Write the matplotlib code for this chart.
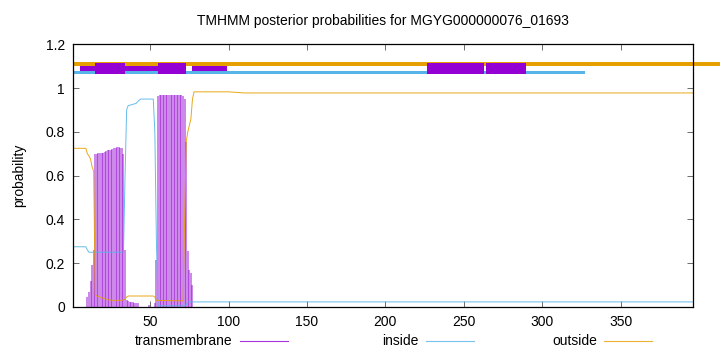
import matplotlib
matplotlib.use("Agg")
import matplotlib.pyplot as plt
from matplotlib.lines import Line2D

plt.rcParams['font.family'] = ['Liberation Sans', 'DejaVu Sans']

title = "TMHMM posterior probabilities for MGYG000000076_01693"
seq_len = 396

# transmembrane posterior, drawn as impulses (residue, probability)
tm_pos = [10, 11, 12, 13, 14,
          15, 16, 17, 18, 19, 20, 21, 22, 23, 24, 25, 26, 27, 28, 29, 30, 31, 32, 33,
          34, 35, 36, 37, 38, 39, 40, 41, 42, 49,
          53, 54,
          55, 56, 57, 58, 59, 60, 61, 62, 63, 64, 65, 66, 67, 68, 69, 70, 71,
          72, 73, 74, 75, 76, 77]
tm_prob = [0.047, 0.07, 0.12, 0.19, 0.26,
           0.70, 0.70, 0.702, 0.703, 0.705, 0.705, 0.706, 0.712, 0.715, 0.716, 0.718, 0.72,
           0.726, 0.728, 0.729, 0.729, 0.728, 0.726, 0.70,
           0.26, 0.03, 0.025, 0.024, 0.022, 0.021, 0.02, 0.02, 0.018, 0.008,
           0.02, 0.215,
           0.966, 0.967, 0.968, 0.968, 0.968, 0.968, 0.968, 0.968, 0.968, 0.968, 0.968,
           0.968, 0.968, 0.968, 0.968, 0.967, 0.966,
           0.95, 0.755, 0.257, 0.17, 0.155, 0.10]

# inside posterior
ins_x = [1, 9, 10, 11, 32, 33, 34, 35, 36, 41, 43, 44, 52, 53, 54, 55, 72, 73, 74, 396]
ins_y = [0.275, 0.275, 0.26, 0.25, 0.25, 0.25, 0.6, 0.90, 0.92, 0.93, 0.945, 0.95,
         0.95, 0.80, 0.30, 0.005, 0.005, 0.01, 0.023, 0.023]

# outside posterior
out_x = [1, 9, 10, 11, 12, 13, 14, 15, 16, 18, 20, 23, 26, 32, 34, 35, 36, 52, 53,
         54, 71, 72, 73, 74, 75, 76, 77, 78, 100, 110, 396]
out_y = [0.725, 0.725, 0.70, 0.69, 0.675, 0.64, 0.62, 0.055, 0.05, 0.045, 0.04, 0.033,
         0.03, 0.03, 0.035, 0.045, 0.05, 0.05, 0.045, 0.03, 0.028, 0.40, 0.755, 0.80,
         0.83, 0.86, 0.95, 0.983, 0.983, 0.978, 0.978]

# predicted topology strip above the curves
outside_seg = [(1, 430)]
inside_seg = [(1, 327.6)]
tm_thin_seg = [(5.3, 72.9), (76.8, 99.1)]
tm_box_seg = [(14.9, 34.0), (54.9, 72.9), (226.7, 263.1), (264.3, 289.9)]

c_tm = '#9400d3'
c_in = '#56b4e9'
c_out = '#e69f00'

fig = plt.figure(figsize=(7.2, 3.52), dpi=100)
ax = fig.add_axes([0.1018, 0.128, 0.8603, 0.746])

ax.vlines(tm_pos, 0, tm_prob, color=c_tm, linewidth=1.1, alpha=0.6)
ax.plot(ins_x, ins_y, color=c_in, linewidth=0.7, alpha=0.9)
ax.plot(out_x, out_y, color=c_out, linewidth=0.7, alpha=0.9)

for a, b in outside_seg:
    ax.fill_between([a, b], 1.100, 1.119, color=c_out, linewidth=0, clip_on=False)
for a, b in inside_seg:
    ax.fill_between([a, b], 1.064, 1.078, color=c_in, linewidth=0)
for a, b in tm_thin_seg:
    ax.fill_between([a, b], 1.079, 1.101, color=c_tm, linewidth=0)
for a, b in tm_box_seg:
    ax.fill_between([a, b], 1.066, 1.115, color=c_tm, linewidth=0)

ax.set_xlim(1, seq_len)
ax.set_ylim(0, 1.2)
ax.set_xticks([50, 100, 150, 200, 250, 300, 350])
ax.set_yticks([0, 0.2, 0.4, 0.6, 0.8, 1.0, 1.2])
ax.set_yticklabels(["0", "0.2", "0.4", "0.6", "0.8", "1", "1.2"])
ax.tick_params(direction='in', length=4, width=0.6, color='#555555',
               top=True, right=True, labelsize=10, pad=6)
for s in ax.spines.values():
    s.set_linewidth(0.9)

ax.set_title(title, fontsize=10, pad=14)
ax.set_ylabel("probability", fontsize=10, labelpad=14)

# legend along the bottom
legend = [("transmembrane", c_tm, 0.323, 0.334, 0.400),
          ("inside", c_in, 0.581, 0.592, 0.659),
          ("outside", c_out, 0.829, 0.839, 0.906)]
for name, col, tx, x0, x1 in legend:
    fig.text(tx, 0.031, name, ha='right', va='center', fontsize=10)
    fig.add_artist(Line2D([x0, x1], [0.031, 0.031], color=col, linewidth=0.8,
                          alpha=0.8, transform=fig.transFigure))

plt.savefig("out.png", dpi=100)
